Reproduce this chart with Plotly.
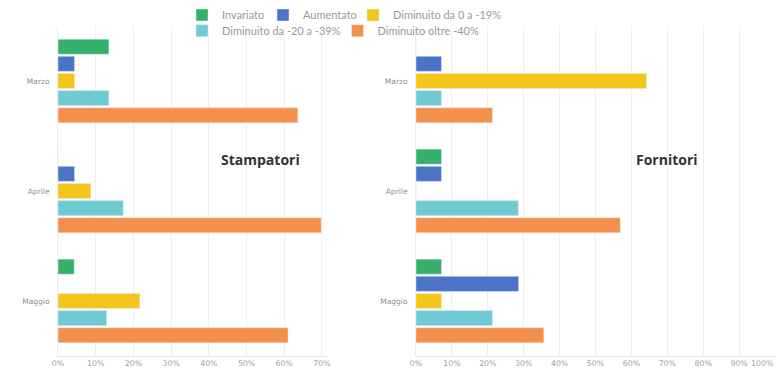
import plotly.graph_objects as go

months = ["Marzo", "Aprile", "Maggio"]
series = ["Invariato", "Aumentato", "Diminuito da 0 a -19%",
          "Diminuito da -20 a -39%", "Diminuito oltre -40%"]
colors = ["#35b06b", "#4b74c6", "#f4c51a", "#70cad4", "#f4904c"]

# Stampatori (%)
stampatori = [
    [13.5, 0.0, 4.3],
    [4.4, 4.4, 0.0],
    [4.4, 8.7, 21.7],
    [13.5, 17.3, 12.9],
    [63.6, 69.8, 61.0],
]
# Fornitori (%)
fornitori = [
    [0.0, 7.1, 7.1],
    [7.1, 7.1, 28.6],
    [64.2, 0.0, 7.1],
    [7.1, 28.5, 21.3],
    [21.3, 56.9, 35.6],
]
left_ticks = [0, 10, 20, 30, 40, 50, 60, 70]
right_ticks = [0, 10, 20, 30, 40, 50, 60, 70, 80, 90, 100]

W, H = 776, 367
legend_names = ["legend", "legend2", "legend3", "legend4", "legend5"]
legend_pos = [(174, 7), (255, 7), (345, 7), (174, 22.7), (329.5, 22.7)]

fig = go.Figure()
for i, name in enumerate(series):
    fig.add_trace(go.Bar(y=months, x=stampatori[i], orientation="h", name=name,
                         marker_color=colors[i], xaxis="x", yaxis="y",
                         legend=legend_names[i], legendgroup=name))
for i, name in enumerate(series):
    fig.add_trace(go.Bar(y=months, x=fornitori[i], orientation="h", name=name,
                         marker_color=colors[i], xaxis="x2", yaxis="y2",
                         legend=legend_names[i], legendgroup=name, showlegend=False))

xtickfont = dict(family="DejaVu Sans", size=7.8, color="#a0a0a0")
ytickfont = dict(family="DejaVu Sans", size=7.5, color="#8e8e8e")
common_x = dict(showgrid=True, gridcolor="#f0f0f0", gridwidth=1, zeroline=False,
                showline=True, linecolor="#e4e4e4", ticks="", tickfont=xtickfont,
                fixedrange=True)
common_y = dict(autorange="reversed", showgrid=False, zeroline=False,
                showline=True, linecolor="#ececec", ticks="", tickfont=ytickfont,
                ticklabelstandoff=6)

legend_font = dict(family="Lato", size=11, color="#9a9a9a")
legends = {}
for lname, (lx, ly) in zip(legend_names, legend_pos):
    legends[lname] = dict(orientation="h", xref="container", x=lx / W, xanchor="left",
                          yref="container", y=1 - ly / H, yanchor="middle",
                          font=legend_font, bgcolor="rgba(0,0,0,0)", borderwidth=0,
                          itemwidth=30, itemclick=False, itemdoubleclick=False)

right_text = [f"{t}%" for t in right_ticks]
right_text[-1] = ""  # last label drawn right-aligned below, as in the original

fig.update_layout(
    width=W, height=H,
    margin=dict(l=0, r=0, t=18, b=19, autoexpand=False),
    paper_bgcolor="white", plot_bgcolor="white",
    barmode="group", bargap=0.22, bargroupgap=0.12,
    font=dict(family="Lato", color="#999999"),
    xaxis=dict(domain=[50 / W, 320 / W], range=[0, 71.6], tickvals=left_ticks,
               ticktext=[f"{t}%" for t in left_ticks], anchor="y", **common_x),
    yaxis=dict(domain=[0, 1], anchor="x", **common_y),
    xaxis2=dict(domain=[408 / W, 767 / W], range=[0, 100], tickvals=right_ticks,
                ticktext=right_text, anchor="y2", **common_x),
    yaxis2=dict(domain=[0, 1], anchor="x2", **common_y),
    annotations=[
        dict(text="<b>Stampatori</b>", x=252 / W, y=0.594, xref="paper", yref="paper",
             xanchor="center", yanchor="middle", showarrow=False,
             font=dict(family="Open Sans", size=14, color="#333333")),
        dict(text="<b>Fornitori</b>", x=659 / W, y=0.594, xref="paper", yref="paper",
             xanchor="center", yanchor="middle", showarrow=False,
             font=dict(family="Open Sans", size=14, color="#333333")),
        dict(text=f"{right_ticks[-1]}%", x=right_ticks[-1], xref="x2", y=0, yref="paper",
             xanchor="right", yanchor="top", yshift=-1, showarrow=False,
             font=xtickfont),
    ],
    **legends,
)

fig.write_html("out.html")
